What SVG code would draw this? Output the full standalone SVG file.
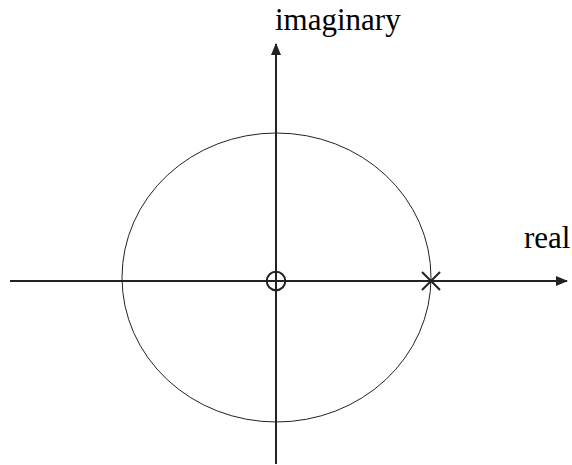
<svg xmlns="http://www.w3.org/2000/svg" width="572" height="465" viewBox="0 0 572 465">
<style>
.ax{stroke:#222;stroke-width:2;fill:none}
.thin{stroke:#222;stroke-width:1;fill:none}
.lbl{font-family:'Liberation Serif','Times New Roman',serif;font-size:31px;fill:#000}
</style>
<defs>
<marker id="ah" markerWidth="12" markerHeight="10" refX="11" refY="5" orient="auto" markerUnits="userSpaceOnUse">
<path d="M0,0 L12,5 L0,10 Z" fill="#222"/>
</marker>
</defs>
<g id="connectors">
<line class="ax" x1="10" y1="281" x2="567" y2="281" marker-end="url(#ah)"/>
<line class="ax" x1="276" y1="464" x2="276" y2="44" marker-end="url(#ah)"/>
</g>
<g id="unit-circle"><ellipse class="thin" cx="276.5" cy="277.5" rx="154.5" ry="144.5"/></g>
<g id="zero"><circle class="ax" cx="276" cy="281" r="9.3"/></g>
<g id="pole"><path class="ax" d="M422,272 L440,290 M440,272 L422,290"/></g>
<g id="label-imag"><text class="lbl" x="275" y="30">imaginary</text></g>
<g id="label-real"><text class="lbl" x="524" y="248">real</text></g>
</svg>
